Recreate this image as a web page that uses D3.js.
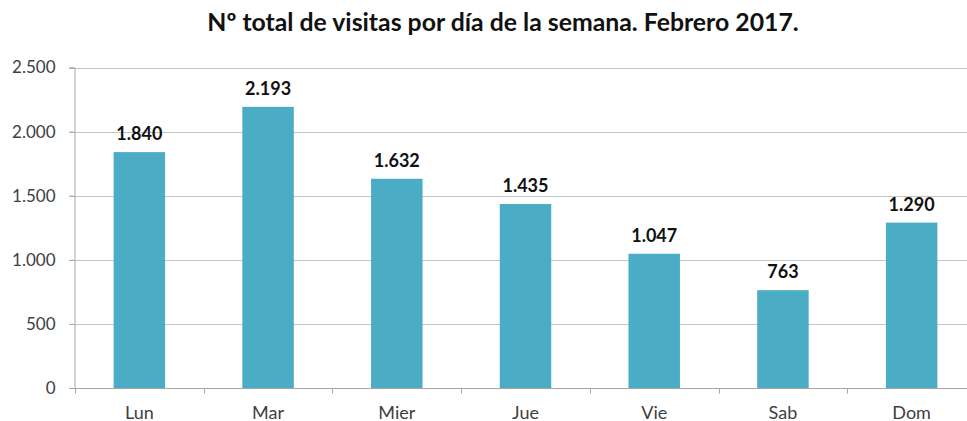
<!DOCTYPE html>
<html>
<head>
<meta charset="utf-8">
<script src="https://cdn.jsdelivr.net/npm/d3@7"></script>
<style>
  body { margin: 0; background: #fff; }
  svg { display: block; }
</style>
</head>
<body>
<svg id="chart" width="967" height="421"></svg>
<script>
// datos
var dias = ["Lun", "Mar", "Mier", "Jue", "Vie", "Sab", "Dom"];
var visitas = [1840, 2193, 1632, 1435, 1047, 763, 1290];
var ticksY = [0, 500, 1000, 1500, 2000, 2500];

var svg = d3.select("#chart"),
    width = 967,
    height = 421,
    fuente = "'Lato', 'DejaVu Sans', sans-serif";

var fmt = function(v) { return d3.format(",")(v).replace(/,/g, "."); };

var x = d3.scaleBand()
    .domain(dias)
    .range([75, 976])
    .paddingInner(0.6)
    .paddingOuter(0.3);

var y = d3.scaleLinear()
    .domain([0, 2500])
    .range([388, 67.5]);

// titulo
svg.append("text")
    .attr("x", 503)
    .attr("y", 31)
    .attr("text-anchor", "middle")
    .style("font-family", fuente)
    .style("font-weight", "bold")
    .style("font-size", "24.8px")
    .attr("fill", "#111")
    .text("Nº total de visitas por día de la semana. Febrero 2017.");

// lineas de la cuadricula
svg.append("g")
    .selectAll("line")
    .data(ticksY.slice(1))
    .enter().append("line")
    .attr("x1", 69)
    .attr("x2", width)
    .attr("y1", function(d) { return Math.round(y(d)) + 0.5; })
    .attr("y2", function(d) { return Math.round(y(d)) + 0.5; })
    .attr("stroke", "#c4c4c4")
    .attr("stroke-width", 1);

// eje y
var ejeY = svg.append("g")
    .attr("transform", "translate(74.5,0)")
    .call(d3.axisLeft(y).tickValues(ticksY).tickFormat(fmt).tickSize(5).tickPadding(14));
ejeY.select(".domain").attr("stroke", "#a6a6a6");
ejeY.selectAll(".tick line").attr("stroke", "#a6a6a6");
ejeY.selectAll("text")
    .style("font-family", fuente)
    .style("font-size", "17px")
    .attr("fill", "#404040");

// barras
svg.append("g")
    .selectAll("rect")
    .data(visitas)
    .enter().append("rect")
    .attr("x", function(d, i) { return x(dias[i]); })
    .attr("y", function(d) { return y(d); })
    .attr("width", x.bandwidth())
    .attr("height", function(d) { return y(0) - y(d); })
    .attr("fill", "#4bacc6");

// eje x
var paso = x.step();
var ejeX = svg.append("g")
    .attr("transform", "translate(0," + (Math.round(y(0)) + 0.5) + ")");
ejeX.append("line")
    .attr("x1", 69).attr("x2", width)
    .attr("stroke", "#a6a6a6");
ejeX.selectAll(".marca")
    .data(d3.range(dias.length + 1))
    .enter().append("line")
    .attr("class", "marca")
    .attr("x1", function(i) { return Math.round(75 + i * paso) + 0.5; })
    .attr("x2", function(i) { return Math.round(75 + i * paso) + 0.5; })
    .attr("y1", 0).attr("y2", 5)
    .attr("stroke", "#a6a6a6");
ejeX.selectAll("text")
    .data(dias)
    .enter().append("text")
    .attr("x", function(d) { return x(d) + x.bandwidth() / 2; })
    .attr("y", 30)
    .attr("text-anchor", "middle")
    .style("font-family", fuente)
    .style("font-size", "18px")
    .attr("fill", "#404040")
    .text(function(d) { return d; });

// etiquetas de valor
svg.append("g")
    .selectAll("text")
    .data(visitas)
    .enter().append("text")
    .attr("x", function(d, i) { return x(dias[i]) + x.bandwidth() / 2; })
    .attr("y", function(d) { return y(d) - 12; })
    .attr("text-anchor", "middle")
    .style("font-family", fuente)
    .style("font-weight", "bold")
    .style("font-size", "18px")
    .attr("fill", "#111")
    .text(function(d) { return fmt(d); });
</script>
</body>
</html>
